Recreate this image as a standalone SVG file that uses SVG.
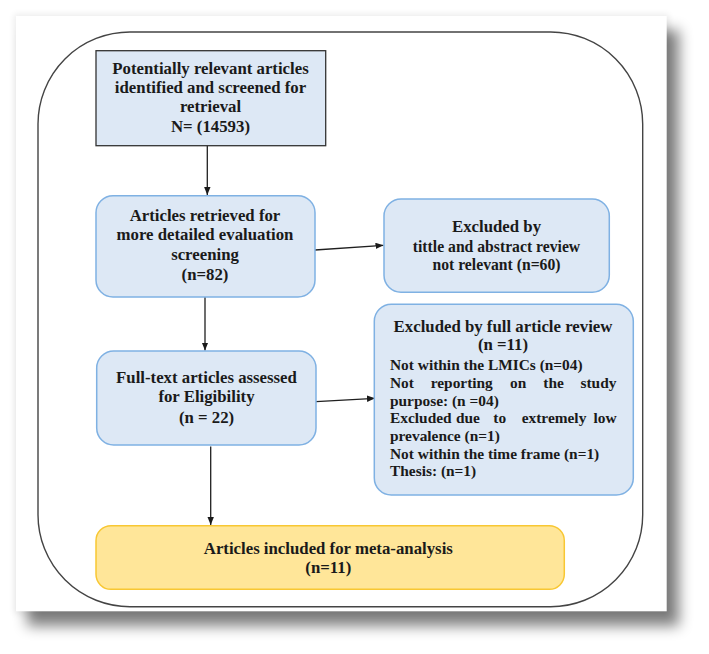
<svg xmlns="http://www.w3.org/2000/svg" width="709" height="654" viewBox="0 0 709 654" font-family="'Liberation Serif', 'Times New Roman', 'DejaVu Serif', serif">
<defs>
<filter id="sh" x="-10%" y="-10%" width="120%" height="120%"><feGaussianBlur stdDeviation="7"/></filter>
<filter id="sh2" x="-10%" y="-10%" width="120%" height="120%"><feGaussianBlur stdDeviation="3"/></filter>
<marker id="ah" viewBox="0 0 10 8" refX="10" refY="4" markerWidth="8" markerHeight="6.5" markerUnits="userSpaceOnUse" orient="auto"><path d="M0,0 L10,4 L0,8 Z" fill="#1a1a1a"/></marker>
</defs>
<style>
.t{font-weight:bold;fill:#1a1a1a;}
.h{font-size:16.8px;text-anchor:middle;}
.s{font-size:15.7px;text-anchor:middle;}
.l{font-size:15.4px;}
.blue{fill:#dde8f5;stroke:#7fb1e3;stroke-width:1.5;}
.conn line{stroke:#1f1f1f;stroke-width:1.3;marker-end:url(#ah);}
</style>
<rect x="0" y="0" width="709" height="654" fill="#ffffff"/>
<rect x="14" y="14" width="655" height="600" fill="#000" opacity="0.07" filter="url(#sh2)"/>
<rect x="27" y="30" width="652" height="596" fill="#000" opacity="0.5" filter="url(#sh)"/>
<rect x="16" y="16" width="650.7" height="595.3" fill="#ffffff"/>
<rect id="frame" x="38" y="32" width="604.7" height="574.7" rx="92" ry="92" fill="none" stroke="#444" stroke-width="1.4"/>

<g class="conn">
<line x1="207.3" y1="145.7" x2="207.3" y2="195"/>
<line x1="205" y1="297" x2="205" y2="350.5"/>
<line x1="315" y1="250" x2="383.5" y2="245.3"/>
<line x1="316" y1="401.7" x2="375" y2="398.3"/>
<line x1="210.7" y1="446.5" x2="210.7" y2="525"/>
</g>

<g id="n1" font-family="'Liberation Serif', serif">
<rect x="96" y="50.7" width="229.7" height="95" fill="#dde8f5" stroke="#333" stroke-width="1.3"/>
<text class="t h" x="210.5" y="74">Potentially relevant articles</text>
<text class="t h" x="210.5" y="93.3">identified and screened for</text>
<text class="t h" x="210.5" y="112.3">retrieval</text>
<text class="t h" x="210.5" y="131.7">N= (14593)</text>
</g>

<g id="n2" font-family="'Liberation Serif', serif">
<rect class="blue" x="96" y="195.7" width="219" height="101.3" rx="17" ry="17"/>
<text class="t h" x="205" y="220.7">Articles retrieved for</text>
<text class="t h" x="205" y="240.3">more detailed evaluation</text>
<text class="t h" x="205" y="260">screening</text>
<text class="t h" x="205" y="280">(n=82)</text>
</g>

<g id="n3" font-family="'Liberation Serif', serif">
<rect class="blue" x="384" y="199" width="225.3" height="93.3" rx="17" ry="17"/>
<text class="t h" x="496.5" y="231.7">Excluded by</text>
<text class="t s" x="496.5" y="251.7">tittle and abstract review</text>
<text class="t s" x="496.5" y="270">not relevant (n=60)</text>
</g>

<g id="n4" font-family="'Liberation Serif', serif">
<rect class="blue" x="374.3" y="304.3" width="259" height="190.7" rx="17" ry="17"/>
<text class="t h" x="503" y="331.7">Excluded by full article review</text>
<text class="t h" x="503" y="350">(n =11)</text>
<text class="t l" x="390" y="370.3">Not within the LMICs (n=04)</text>
<text class="t l" y="388"><tspan x="390">Not</tspan><tspan x="430.7">reporting</tspan><tspan x="510">on</tspan><tspan x="543.3">the</tspan><tspan x="580.5">study</tspan></text>
<text class="t l" x="390" y="405.7">purpose: (n =04)</text>
<text class="t l" y="423.3"><tspan x="390">Excluded</tspan><tspan x="456">due</tspan><tspan x="493.3">to</tspan><tspan x="521.7">extremely</tspan><tspan x="593.6">low</tspan></text>
<text class="t l" x="390" y="441">prevalence (n=1)</text>
<text class="t l" x="390" y="458.6">Not within the time frame (n=1)</text>
<text class="t l" x="390" y="476.3">Thesis: (n=1)</text>
</g>

<g id="n5" font-family="'Liberation Serif', serif">
<rect class="blue" x="96.7" y="351" width="219.3" height="94" rx="17" ry="17"/>
<text class="t h" x="206.5" y="383.3">Full-text articles assessed</text>
<text class="t h" x="206.5" y="402.3">for Eligibility</text>
<text class="t h" x="206.5" y="422.8">(n = 22)</text>
</g>

<g id="n6" font-family="'Liberation Serif', serif">
<rect x="96" y="525.7" width="468.3" height="63.6" rx="15" ry="15" fill="#ffe699" stroke="#f8c733" stroke-width="1.5"/>
<text class="t h" x="328.3" y="554.3">Articles included for meta-analysis</text>
<text class="t h" x="328.3" y="573.3">(n=11)</text>
</g>
</svg>
